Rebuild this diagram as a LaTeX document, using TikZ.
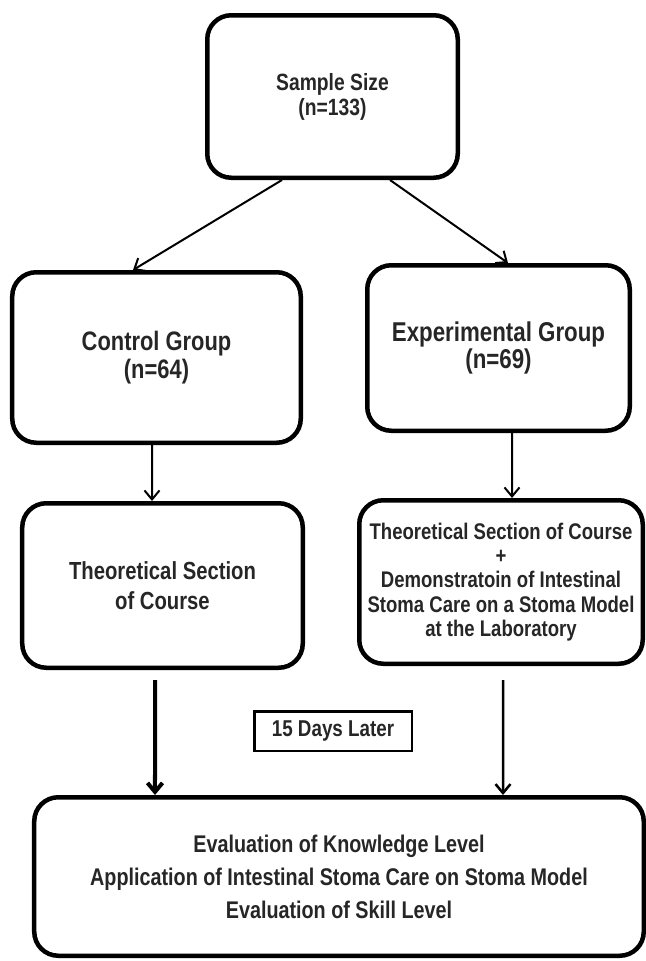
\documentclass[tikz,border=0pt]{standalone}
\usepackage{fontspec}
\setmainfont{Liberation Sans}[FakeStretch=0.82]
\usetikzlibrary{arrows.meta}

\begin{document}
\begin{tikzpicture}[x=1bp,y=-1bp,
    box/.style={draw,line width=4.5bp,rounded corners=24bp,align=center,text=black!85},
    arr/.style={-{Straight Barb[length=9bp,width=15bp]},line width=2bp}]
    \useasboundingbox (0,0) rectangle (646,961);

    % Draw boxes
    \node[box,minimum width=250.5bp,minimum height=162.5bp,font=\bfseries\fontsize{23.6}{25}\selectfont] (sample) at (332.5,96.5) {Sample Size\\(n=133)};
    \node[box,minimum width=288.5bp,minimum height=170.5bp,font=\bfseries\fontsize{26.8}{28}\selectfont] (control) at (156.5,357.5) {Control Group\\(n=64)};
    \node[box,minimum width=262.5bp,minimum height=165.5bp,font=\bfseries\fontsize{27.3}{28}\selectfont] (exper) at (498.5,348) {Experimental Group\\(n=69)};
    \node[box,minimum width=280.5bp,minimum height=164.5bp,font=\bfseries\fontsize{24.8}{30}\selectfont] (theo) at (162.5,585.5) {Theoretical Section\\of Course};
    \node[box,minimum width=283.5bp,minimum height=163.5bp,font=\bfseries\fontsize{22.7}{24.5}\selectfont] (demo) at (501,582) {Theoretical Section of Course\\+\\Demonstratoin of Intestinal\\Stoma Care on a Stoma Model\\at the Laboratory};
    \node[draw,line width=2.5bp,minimum width=157.5bp,minimum height=39.5bp,text=black!85,font=\bfseries\fontsize{23}{25}\selectfont] (days) at (333,731) {15 Days Later};
    \node[box,minimum width=609.5bp,minimum height=158.5bp,font=\bfseries\fontsize{24.2}{33}\selectfont] (eval) at (339,876.5) {Evaluation of Knowledge Level\\Application of Intestinal Stoma Care on Stoma Model\\Evaluation of Skill Level};

    % Draw arrows
    \draw[arr] ([xshift=-50.5bp]sample.south) -- ([xshift=-23.5bp]control.north);
    \draw[arr] ([xshift=57.5bp]sample.south) -- ([xshift=9.5bp]exper.north);
    \draw[arr] ([xshift=-4.5bp]control.south) -- ([xshift=-10.5bp]theo.north);
    \draw[arr] ([xshift=13.5bp]exper.south) -- ([xshift=11bp]demo.north);
    \draw[arr,line width=4bp] ([xshift=-7.5bp,yshift=-10bp]theo.south) -- ([xshift=-184bp]eval.north);
    \draw[arr,line width=2.5bp] ([xshift=2bp,yshift=-14bp]demo.south) -- ([xshift=164bp]eval.north);
\end{tikzpicture}
\end{document}
